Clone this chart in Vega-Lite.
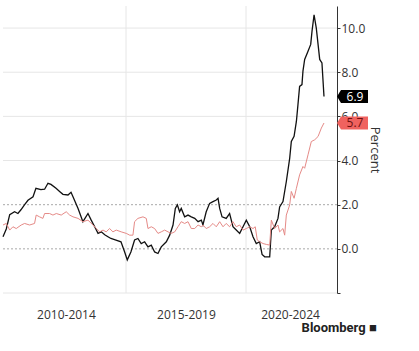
{
  "$schema": "https://vega.github.io/schema/vega-lite/v6.json",
  "width": 334,
  "height": 287,
  "padding": {"left": 0, "top": 5, "right": 8, "bottom": 0},
  "background": "white",
  "config": {"view": {"stroke": null}, "font": "Open Sans"},
  "title": {"text": "Bloomberg ■", "orient": "bottom", "anchor": "end", "fontSize": 13, "fontWeight": "bold", "color": "#222", "offset": 2, "dx": -4, "font": "Roboto"},
  "datasets": {
    "series": [
      {"series": "Headline", "date": "2009-11-16", "value": 0.55},
      {"series": "Headline", "date": "2010-01-05", "value": 0.9},
      {"series": "Headline", "date": "2010-02-26", "value": 1.55},
      {"series": "Headline", "date": "2010-05-11", "value": 1.68},
      {"series": "Headline", "date": "2010-07-01", "value": 1.6},
      {"series": "Headline", "date": "2010-08-16", "value": 1.77},
      {"series": "Headline", "date": "2010-10-11", "value": 2.0},
      {"series": "Headline", "date": "2010-12-01", "value": 2.2},
      {"series": "Headline", "date": "2011-02-16", "value": 2.36},
      {"series": "Headline", "date": "2011-04-01", "value": 2.74},
      {"series": "Headline", "date": "2011-06-16", "value": 2.68},
      {"series": "Headline", "date": "2011-08-11", "value": 2.7},
      {"series": "Headline", "date": "2011-10-01", "value": 2.97},
      {"series": "Headline", "date": "2011-11-16", "value": 2.92},
      {"series": "Headline", "date": "2012-02-01", "value": 2.74},
      {"series": "Headline", "date": "2012-03-26", "value": 2.6},
      {"series": "Headline", "date": "2012-05-16", "value": 2.47},
      {"series": "Headline", "date": "2012-08-01", "value": 2.44},
      {"series": "Headline", "date": "2012-09-16", "value": 2.56},
      {"series": "Headline", "date": "2012-10-16", "value": 2.36},
      {"series": "Headline", "date": "2013-01-01", "value": 1.83},
      {"series": "Headline", "date": "2013-03-16", "value": 1.23},
      {"series": "Headline", "date": "2013-06-01", "value": 1.6},
      {"series": "Headline", "date": "2013-07-20", "value": 1.3},
      {"series": "Headline", "date": "2013-09-11", "value": 1.0},
      {"series": "Headline", "date": "2013-11-01", "value": 0.7},
      {"series": "Headline", "date": "2013-12-20", "value": 0.77},
      {"series": "Headline", "date": "2014-02-11", "value": 0.64},
      {"series": "Headline", "date": "2014-04-01", "value": 0.55},
      {"series": "Headline", "date": "2014-05-16", "value": 0.47},
      {"series": "Headline", "date": "2014-08-01", "value": 0.4},
      {"series": "Headline", "date": "2014-10-16", "value": 0.32},
      {"series": "Headline", "date": "2014-12-11", "value": -0.14},
      {"series": "Headline", "date": "2015-01-20", "value": -0.5},
      {"series": "Headline", "date": "2015-03-16", "value": -0.14},
      {"series": "Headline", "date": "2015-05-11", "value": 0.4},
      {"series": "Headline", "date": "2015-07-01", "value": 0.47},
      {"series": "Headline", "date": "2015-08-20", "value": 0.24},
      {"series": "Headline", "date": "2015-10-11", "value": 0.32},
      {"series": "Headline", "date": "2015-12-01", "value": 0.09},
      {"series": "Headline", "date": "2016-01-20", "value": 0.17},
      {"series": "Headline", "date": "2016-03-11", "value": -0.14},
      {"series": "Headline", "date": "2016-05-01", "value": -0.21},
      {"series": "Headline", "date": "2016-06-20", "value": 0.09},
      {"series": "Headline", "date": "2016-09-05", "value": 0.32},
      {"series": "Headline", "date": "2016-10-26", "value": 0.62},
      {"series": "Headline", "date": "2016-12-16", "value": 1.08},
      {"series": "Headline", "date": "2017-01-20", "value": 1.83},
      {"series": "Headline", "date": "2017-02-20", "value": 1.99},
      {"series": "Headline", "date": "2017-03-26", "value": 1.68},
      {"series": "Headline", "date": "2017-04-20", "value": 1.83},
      {"series": "Headline", "date": "2017-06-11", "value": 1.45},
      {"series": "Headline", "date": "2017-08-01", "value": 1.53},
      {"series": "Headline", "date": "2017-09-20", "value": 1.45},
      {"series": "Headline", "date": "2017-11-11", "value": 1.38},
      {"series": "Headline", "date": "2018-01-01", "value": 1.23},
      {"series": "Headline", "date": "2018-02-20", "value": 1.3},
      {"series": "Headline", "date": "2018-03-16", "value": 1.08},
      {"series": "Headline", "date": "2018-05-05", "value": 1.68},
      {"series": "Headline", "date": "2018-06-26", "value": 2.06},
      {"series": "Headline", "date": "2018-08-16", "value": 2.14},
      {"series": "Headline", "date": "2018-10-05", "value": 2.21},
      {"series": "Headline", "date": "2018-11-01", "value": 2.29},
      {"series": "Headline", "date": "2018-11-26", "value": 1.83},
      {"series": "Headline", "date": "2019-01-01", "value": 1.45},
      {"series": "Headline", "date": "2019-03-05", "value": 1.38},
      {"series": "Headline", "date": "2019-04-26", "value": 1.6},
      {"series": "Headline", "date": "2019-06-16", "value": 1.0},
      {"series": "Headline", "date": "2019-08-05", "value": 0.85},
      {"series": "Headline", "date": "2019-09-26", "value": 0.7},
      {"series": "Headline", "date": "2019-11-16", "value": 1.0},
      {"series": "Headline", "date": "2020-01-05", "value": 1.3},
      {"series": "Headline", "date": "2020-02-26", "value": 1.0},
      {"series": "Headline", "date": "2020-04-16", "value": 0.55},
      {"series": "Headline", "date": "2020-06-05", "value": 0.24},
      {"series": "Headline", "date": "2020-07-26", "value": 0.32},
      {"series": "Headline", "date": "2020-09-01", "value": -0.25},
      {"series": "Headline", "date": "2020-10-11", "value": -0.36},
      {"series": "Headline", "date": "2020-12-26", "value": -0.36},
      {"series": "Headline", "date": "2021-01-20", "value": 0.85},
      {"series": "Headline", "date": "2021-03-11", "value": 1.0},
      {"series": "Headline", "date": "2021-05-01", "value": 1.38},
      {"series": "Headline", "date": "2021-05-26", "value": 1.9},
      {"series": "Headline", "date": "2021-07-16", "value": 2.14},
      {"series": "Headline", "date": "2021-09-05", "value": 3.05},
      {"series": "Headline", "date": "2021-10-26", "value": 4.1},
      {"series": "Headline", "date": "2021-11-20", "value": 4.86},
      {"series": "Headline", "date": "2022-01-01", "value": 5.1},
      {"series": "Headline", "date": "2022-02-05", "value": 5.77},
      {"series": "Headline", "date": "2022-03-01", "value": 6.53},
      {"series": "Headline", "date": "2022-03-26", "value": 7.36},
      {"series": "Headline", "date": "2022-05-01", "value": 7.44},
      {"series": "Headline", "date": "2022-05-16", "value": 8.05},
      {"series": "Headline", "date": "2022-06-11", "value": 8.58},
      {"series": "Headline", "date": "2022-08-01", "value": 8.95},
      {"series": "Headline", "date": "2022-09-11", "value": 9.26},
      {"series": "Headline", "date": "2022-10-01", "value": 9.86},
      {"series": "Headline", "date": "2022-11-01", "value": 10.6},
      {"series": "Headline", "date": "2022-12-05", "value": 10.0},
      {"series": "Headline", "date": "2023-01-26", "value": 8.58},
      {"series": "Headline", "date": "2023-03-01", "value": 8.42},
      {"series": "Headline", "date": "2023-04-01", "value": 6.9},
      {"series": "Core", "date": "2009-11-16", "value": 1.08},
      {"series": "Core", "date": "2010-01-05", "value": 1.15},
      {"series": "Core", "date": "2010-02-26", "value": 0.85},
      {"series": "Core", "date": "2010-04-16", "value": 1.0},
      {"series": "Core", "date": "2010-06-05", "value": 0.92},
      {"series": "Core", "date": "2010-08-20", "value": 1.08},
      {"series": "Core", "date": "2010-10-11", "value": 1.15},
      {"series": "Core", "date": "2010-12-26", "value": 1.08},
      {"series": "Core", "date": "2011-03-11", "value": 1.15},
      {"series": "Core", "date": "2011-04-05", "value": 1.53},
      {"series": "Core", "date": "2011-05-26", "value": 1.45},
      {"series": "Core", "date": "2011-07-16", "value": 1.38},
      {"series": "Core", "date": "2011-08-11", "value": 1.6},
      {"series": "Core", "date": "2011-10-26", "value": 1.6},
      {"series": "Core", "date": "2011-12-16", "value": 1.53},
      {"series": "Core", "date": "2012-02-05", "value": 1.6},
      {"series": "Core", "date": "2012-04-20", "value": 1.53},
      {"series": "Core", "date": "2012-07-05", "value": 1.68},
      {"series": "Core", "date": "2012-08-26", "value": 1.53},
      {"series": "Core", "date": "2012-10-16", "value": 1.45},
      {"series": "Core", "date": "2013-01-01", "value": 1.38},
      {"series": "Core", "date": "2013-03-16", "value": 1.23},
      {"series": "Core", "date": "2013-06-01", "value": 1.3},
      {"series": "Core", "date": "2013-08-16", "value": 1.08},
      {"series": "Core", "date": "2013-10-05", "value": 0.92},
      {"series": "Core", "date": "2013-11-26", "value": 0.77},
      {"series": "Core", "date": "2014-01-16", "value": 0.85},
      {"series": "Core", "date": "2014-03-05", "value": 0.77},
      {"series": "Core", "date": "2014-04-26", "value": 0.92},
      {"series": "Core", "date": "2014-06-16", "value": 0.77},
      {"series": "Core", "date": "2014-08-05", "value": 0.85},
      {"series": "Core", "date": "2014-10-20", "value": 0.77},
      {"series": "Core", "date": "2015-01-05", "value": 0.7},
      {"series": "Core", "date": "2015-02-26", "value": 0.62},
      {"series": "Core", "date": "2015-04-16", "value": 0.62},
      {"series": "Core", "date": "2015-05-11", "value": 1.23},
      {"series": "Core", "date": "2015-07-01", "value": 1.38},
      {"series": "Core", "date": "2015-09-16", "value": 1.45},
      {"series": "Core", "date": "2015-11-05", "value": 1.38},
      {"series": "Core", "date": "2015-12-01", "value": 0.92},
      {"series": "Core", "date": "2016-01-20", "value": 1.0},
      {"series": "Core", "date": "2016-03-11", "value": 0.92},
      {"series": "Core", "date": "2016-05-01", "value": 0.7},
      {"series": "Core", "date": "2016-06-20", "value": 0.77},
      {"series": "Core", "date": "2016-08-11", "value": 0.85},
      {"series": "Core", "date": "2016-10-01", "value": 0.77},
      {"series": "Core", "date": "2016-11-20", "value": 0.7},
      {"series": "Core", "date": "2017-01-11", "value": 0.77},
      {"series": "Core", "date": "2017-03-01", "value": 1.0},
      {"series": "Core", "date": "2017-04-20", "value": 1.23},
      {"series": "Core", "date": "2017-06-11", "value": 1.15},
      {"series": "Core", "date": "2017-08-01", "value": 1.23},
      {"series": "Core", "date": "2017-09-20", "value": 0.92},
      {"series": "Core", "date": "2017-11-11", "value": 0.92},
      {"series": "Core", "date": "2018-01-01", "value": 1.08},
      {"series": "Core", "date": "2018-02-20", "value": 1.0},
      {"series": "Core", "date": "2018-03-16", "value": 1.08},
      {"series": "Core", "date": "2018-05-05", "value": 0.92},
      {"series": "Core", "date": "2018-06-26", "value": 1.0},
      {"series": "Core", "date": "2018-08-16", "value": 1.15},
      {"series": "Core", "date": "2018-10-05", "value": 1.0},
      {"series": "Core", "date": "2018-11-26", "value": 1.23},
      {"series": "Core", "date": "2019-01-16", "value": 1.0},
      {"series": "Core", "date": "2019-03-05", "value": 1.15},
      {"series": "Core", "date": "2019-04-26", "value": 1.0},
      {"series": "Core", "date": "2019-06-16", "value": 1.23},
      {"series": "Core", "date": "2019-08-05", "value": 1.0},
      {"series": "Core", "date": "2019-09-26", "value": 1.08},
      {"series": "Core", "date": "2019-11-16", "value": 0.85},
      {"series": "Core", "date": "2020-01-05", "value": 0.92},
      {"series": "Core", "date": "2020-02-26", "value": 1.0},
      {"series": "Core", "date": "2020-04-16", "value": 0.92},
      {"series": "Core", "date": "2020-05-20", "value": 1.0},
      {"series": "Core", "date": "2020-06-20", "value": 0.4},
      {"series": "Core", "date": "2020-07-26", "value": 0.32},
      {"series": "Core", "date": "2020-09-16", "value": 0.24},
      {"series": "Core", "date": "2020-11-05", "value": 0.2},
      {"series": "Core", "date": "2020-12-26", "value": 0.17},
      {"series": "Core", "date": "2021-01-20", "value": 1.3},
      {"series": "Core", "date": "2021-03-11", "value": 0.92},
      {"series": "Core", "date": "2021-05-01", "value": 1.08},
      {"series": "Core", "date": "2021-05-26", "value": 0.77},
      {"series": "Core", "date": "2021-07-16", "value": 0.92},
      {"series": "Core", "date": "2021-08-11", "value": 0.62},
      {"series": "Core", "date": "2021-09-05", "value": 1.53},
      {"series": "Core", "date": "2021-10-26", "value": 1.99},
      {"series": "Core", "date": "2021-11-20", "value": 2.6},
      {"series": "Core", "date": "2022-01-01", "value": 2.29},
      {"series": "Core", "date": "2022-02-05", "value": 2.74},
      {"series": "Core", "date": "2022-03-26", "value": 3.35},
      {"series": "Core", "date": "2022-05-16", "value": 3.73},
      {"series": "Core", "date": "2022-06-11", "value": 3.65},
      {"series": "Core", "date": "2022-08-01", "value": 4.26},
      {"series": "Core", "date": "2022-09-20", "value": 4.86},
      {"series": "Core", "date": "2022-11-11", "value": 4.94},
      {"series": "Core", "date": "2023-01-01", "value": 5.09},
      {"series": "Core", "date": "2023-02-20", "value": 5.47},
      {"series": "Core", "date": "2023-04-01", "value": 5.7}
    ],
    "hgrid": [{"value": -2}, {"value": 4}, {"value": 6}, {"value": 8}, {"value": 10}],
    "hdot": [{"value": 0}, {"value": 2}],
    "vgrid": [{"date": "2015-01-01"}, {"date": "2020-01-01"}]
  },
  "layer": [
    {
      "data": {"name": "hgrid"},
      "mark": {"type": "rule", "color": "#e6e6e6", "strokeWidth": 1},
      "encoding": {"y": {"field": "value", "type": "quantitative"}}
    },
    {
      "data": {"name": "vgrid"},
      "mark": {"type": "rule", "color": "#e6e6e6", "strokeWidth": 1},
      "encoding": {"x": {"field": "date", "type": "temporal"}}
    },
    {
      "data": {"name": "hdot"},
      "mark": {"type": "rule", "color": "#a8a8a8", "strokeWidth": 1, "strokeDash": [2, 2]},
      "encoding": {"y": {"field": "value", "type": "quantitative"}}
    },
    {
      "data": {"name": "series"},
      "mark": {"type": "line", "interpolate": "linear"},
      "encoding": {
        "x": {
          "field": "date", "type": "temporal",
          "scale": {"domain": [{"year": 2009, "month": 11, "date": 16}, {"year": 2023, "month": 10, "date": 16}]},
          "axis": {
            "title": null, "grid": false, "ticks": false, "domain": false,
            "values": [{"year": 2012, "month": 7, "date": 1}, {"year": 2017, "month": 7, "date": 1}, {"year": 2021, "month": 11, "date": 1}],
            "labelExpr": "year(datum.value) == 2012 ? '2010-2014' : year(datum.value) == 2017 ? '2015-2019' : '2020-2024'",
            "labelFontSize": 12, "labelColor": "#333", "labelPadding": 16, "labelFont": "Open Sans"
          }
        },
        "y": {
          "field": "value", "type": "quantitative",
          "scale": {"domain": [-2, 11], "nice": false, "zero": false},
          "axis": {
            "orient": "right", "title": "Percent", "grid": false,
            "values": [-2, -1, 0, 1, 2, 3, 4, 5, 6, 7, 8, 9, 10, 11],
            "labelExpr": "datum.value >= 0 && datum.value <= 10 && datum.value % 2 == 0 ? format(datum.value, '.1f') : ''",
            "tickSize": 3, "tickColor": "#333", "domainColor": "#333",
            "labelFontSize": 12, "labelColor": "#333", "labelPadding": 1, "labelFont": "Open Sans",
            "titleFontSize": 13, "titleFontWeight": "normal", "titleColor": "#333", "titlePadding": 3, "titleFont": "Open Sans"
          }
        },
        "stroke": {"field": "series", "type": "nominal", "scale": {"domain": ["Core", "Headline"], "range": ["#e58a87", "#111111"]}, "legend": null},
        "strokeWidth": {"field": "series", "type": "nominal", "scale": {"domain": ["Core", "Headline"], "range": [1, 1.3]}, "legend": null},
        "order": {"field": "date"}
      }
    },
    {
      "data": {"name": "series"},
      "transform": [
        {"window": [{"op": "row_number", "as": "rk"}], "groupby": ["series"], "sort": [{"field": "date", "order": "descending"}]},
        {"filter": "datum.rk == 1"}
      ],
      "layer": [
        {
          "mark": {"type": "point", "filled": true, "opacity": 1, "size": 4, "strokeWidth": 0,
                   "shape": "M0,0 L4,-6.5 L31,-6.5 L31,6.5 L4,6.5 Z"},
          "encoding": {
            "x": {"datum": {"year": 2023, "month": 10, "date": 16}, "type": "temporal"},
            "y": {"field": "value", "type": "quantitative"},
            "fill": {"field": "series", "type": "nominal", "scale": {"domain": ["Core", "Headline"], "range": ["#f0625f", "#000000"]}, "legend": null}
          }
        },
        {
          "mark": {"type": "text", "align": "center", "baseline": "middle", "dx": 18, "fontSize": 12, "font": "Open Sans"},
          "encoding": {
            "x": {"datum": {"year": 2023, "month": 10, "date": 16}, "type": "temporal"},
            "y": {"field": "value", "type": "quantitative"},
            "text": {"field": "value", "type": "quantitative", "format": ".1f"},
            "color": {"field": "series", "type": "nominal", "scale": {"domain": ["Core", "Headline"], "range": ["#6e1010", "#ffffff"]}, "legend": null}
          }
        }
      ]
    }
  ]
}
